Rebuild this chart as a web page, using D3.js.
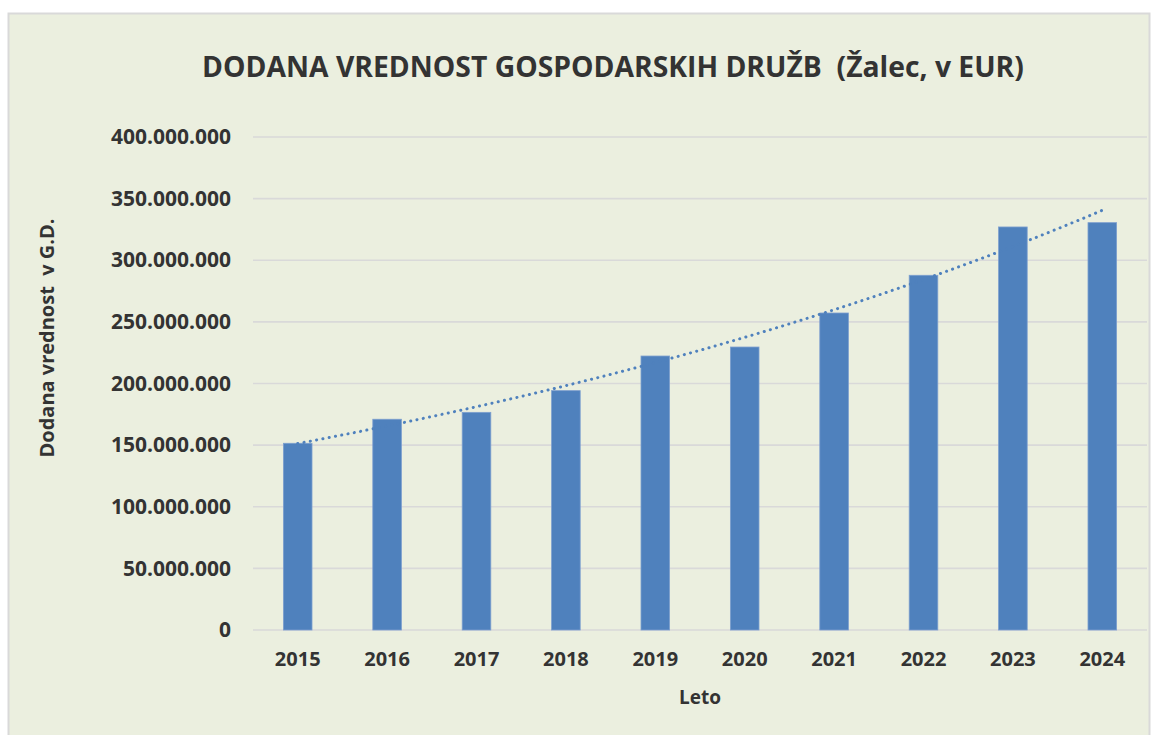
<!DOCTYPE html>
<head>
<meta charset="utf-8">
<title>Dodana vrednost gospodarskih družb</title>
<style>
body { margin: 0; background: #fff; }
svg text { fill: #333; font-family: 'Open Sans', sans-serif; font-weight: bold; }
</style>
<script src="https://cdnjs.cloudflare.com/ajax/libs/d3/7.8.5/d3.min.js"></script>
</head>
<body>
<div id="chart"></div>
<script>
// values
var years = ["2015","2016","2017","2018","2019","2020","2021","2022","2023","2024"];
var values = [151500000,171000000,176600000,194200000,222300000,229600000,257200000,287800000,327000000,330500000];
var yTicks = [0,50000000,100000000,150000000,200000000,250000000,300000000,350000000,400000000];

var W = 1160, H = 735;
var plotL = 253, plotR = 1147, plotT = 137, plotB = 630;

var svg = d3.select("#chart").append("svg")
  .attr("width", W).attr("height", H);

// chart frame
svg.append("rect")
  .attr("x", 8.5).attr("y", 13.5)
  .attr("width", 1141).attr("height", 730)
  .attr("fill", "#ebefdf")
  .attr("stroke", "#d9d9d9").attr("stroke-width", 2);

var x = d3.scaleBand().domain(years).range([plotL, plotR]).paddingInner(0.68).paddingOuter(0.34);
var y = d3.scaleLinear().domain([0, 400000000]).range([plotB, plotT]);

var fmt = function(v) { return d3.format(",")(v).replace(/,/g, "."); };

// gridlines
svg.append("g").selectAll("line")
  .data(yTicks).enter().append("line")
  .attr("x1", plotL).attr("x2", plotR)
  .attr("y1", function(d) { return y(d); })
  .attr("y2", function(d) { return y(d); })
  .attr("stroke", "#d9d9d9").attr("stroke-width", 1.6);

// y axis labels
var yAxis = d3.axisLeft(y).tickValues(yTicks).tickFormat(fmt).tickSize(0).tickPadding(22);
var gy = svg.append("g").attr("transform", "translate(" + plotL + ",0)").call(yAxis);
gy.select(".domain").remove();
gy.selectAll("text")
  .style("font-family", "'Open Sans', sans-serif")
  .style("font-weight", "bold")
  .style("font-size", "21px")
  .attr("fill", "#333");

// bars
svg.append("g").selectAll("rect")
  .data(values).enter().append("rect")
  .attr("x", function(d, i) { return x(years[i]); })
  .attr("width", x.bandwidth())
  .attr("y", function(d) { return y(d); })
  .attr("height", function(d) { return plotB - y(d); })
  .attr("fill", "#4f81bd")
  .attr("stroke", "#7d9fcf").attr("stroke-width", 0.8);

// exponential trendline (least squares on ln values)
var n = values.length;
var lx = d3.range(n), ly = values.map(function(v) { return Math.log(v); });
var mx = d3.mean(lx), my = d3.mean(ly);
var b = d3.sum(lx, function(d, i) { return (d - mx) * (ly[i] - my); }) / d3.sum(lx, function(d) { return (d - mx) * (d - mx); });
var a = my - b * mx;
var trend = d3.range(0, n - 1 + 0.001, 0.1).map(function(t) { return [t, Math.exp(a + b * t)]; });
var xc = function(t) { return x(years[0]) + x.bandwidth() / 2 + t * x.step(); };

svg.append("path")
  .datum(trend)
  .attr("d", d3.line().x(function(d) { return xc(d[0]); }).y(function(d) { return y(d[1]); }))
  .attr("fill", "none")
  .attr("stroke", "#4f81bd")
  .attr("stroke-width", 3)
  .attr("stroke-linecap", "round")
  .attr("stroke-dasharray", "0.1 6.3");

// x axis labels
var xAxis = d3.axisBottom(x).tickSize(0).tickPadding(22);
var gx = svg.append("g").attr("transform", "translate(0," + plotB + ")").call(xAxis);
gx.select(".domain").remove();
gx.selectAll("text")
  .style("font-family", "'Open Sans', sans-serif")
  .style("font-weight", "bold")
  .style("font-size", "20px")
  .attr("fill", "#333");

// title
svg.append("text")
  .attr("x", 613).attr("y", 77)
  .attr("text-anchor", "middle")
  .style("font-size", "28.3px")
  .style("white-space", "pre")
  .text("DODANA VREDNOST GOSPODARSKIH DRUŽB  (Žalec, v EUR)");

// axis titles
svg.append("text")
  .attr("x", 700).attr("y", 704)
  .attr("text-anchor", "middle")
  .style("font-size", "19px")
  .text("Leto");

svg.append("text")
  .attr("transform", "translate(54,338) rotate(-90)")
  .attr("text-anchor", "middle")
  .style("font-size", "20px")
  .style("white-space", "pre")
  .text("Dodana vrednost  v G.D.");
</script>
</body>
